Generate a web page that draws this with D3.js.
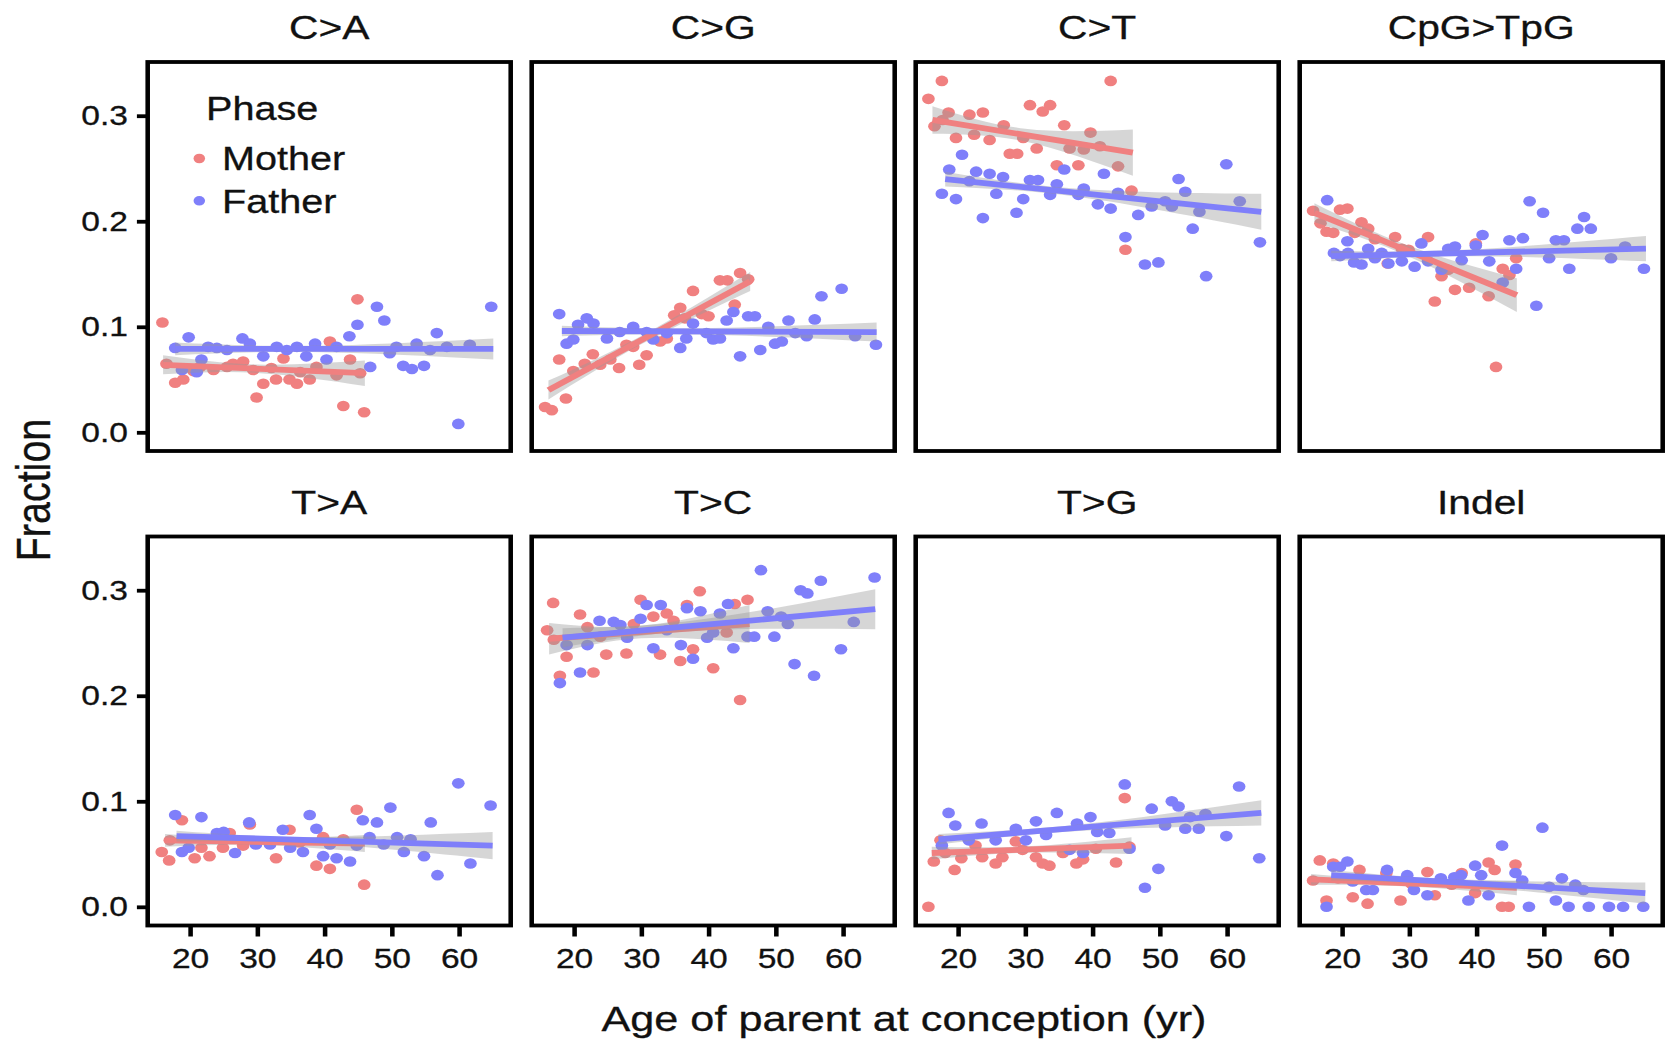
<!DOCTYPE html>
<html><head><meta charset="utf-8">
<script src="https://cdn.jsdelivr.net/npm/d3@7"></script>
<style>html,body{margin:0;padding:0;background:#fff;}svg{display:block;}</style>
</head><body>
<svg id="chart" width="1665" height="1041"></svg>
<script>
// ---------------- DATA ----------------
const panels = ["C>A", "C>G", "C>T", "CpG>TpG", "T>A", "T>C", "T>G", "Indel"];
const phases = ["Mother", "Father"];
const xTicks = [20, 30, 40, 50, 60];
const yTicks = [0.0, 0.1, 0.2, 0.3];
const xLabel = "Age of parent at conception (yr)";
const yLabel = "Fraction";
const legendTitle = "Phase";

// points: [age, fraction]
const caMother = [[15.9,0.104],[44.9,0.126],[40.8,0.086],[43.8,0.069],[17.8,0.047],[19.0,0.050],[29.9,0.033],[30.9,0.046],[32.8,0.050],[34.8,0.050],[35.9,0.046],[37.8,0.050],[42.8,0.025],[45.9,0.019],[16.5,0.065],[23.5,0.059],[26.4,0.065],[27.9,0.067],[29.4,0.059],[33.9,0.070],[38.8,0.062],[41.8,0.054],[45.3,0.056],[21.5,0.062],[25.5,0.062],[36.4,0.057],[32.1,0.061],[20.5,0.058]];
const caFather = [[19.8,0.090],[17.8,0.080],[27.8,0.089],[43.7,0.091],[44.9,0.102],[47.8,0.119],[48.9,0.106],[56.7,0.094],[64.8,0.119],[59.9,0.008],[46.8,0.062],[51.7,0.063],[53.0,0.060],[54.8,0.063],[61.6,0.083],[53.7,0.084],[49.7,0.075],[18.8,0.059],[21.0,0.057],[21.7,0.069],[22.7,0.081],[25.5,0.078],[28.9,0.084],[30.9,0.072],[32.9,0.081],[34.4,0.078],[35.9,0.081],[38.6,0.084],[40.3,0.069],[41.8,0.081],[37.3,0.072],[24.0,0.080],[50.7,0.081],[55.7,0.078],[58.2,0.081]];
const cgMother = [[15.7,0.024],[16.7,0.021],[18.8,0.032],[17.8,0.069],[19.9,0.058],[21.6,0.065],[22.8,0.074],[23.9,0.064],[26.7,0.061],[29.7,0.064],[30.8,0.073],[27.8,0.083],[33.8,0.089],[34.9,0.111],[35.8,0.118],[37.7,0.134],[40.0,0.110],[41.7,0.144],[42.8,0.144],[43.9,0.121],[44.7,0.151],[45.9,0.145],[32.8,0.086],[28.8,0.081],[25.4,0.069],[36.5,0.108],[39.0,0.112]];
const cgFather = [[17.8,0.112],[18.9,0.084],[19.9,0.088],[20.6,0.102],[21.9,0.108],[22.9,0.103],[24.9,0.089],[26.8,0.095],[28.8,0.100],[30.8,0.095],[31.8,0.088],[33.8,0.094],[35.8,0.080],[36.7,0.089],[37.7,0.103],[40.7,0.088],[41.7,0.089],[42.7,0.106],[43.7,0.114],[44.7,0.072],[45.9,0.110],[46.9,0.110],[47.7,0.078],[48.9,0.100],[49.9,0.084],[50.9,0.086],[51.9,0.106],[52.9,0.094],[54.6,0.091],[55.8,0.107],[56.8,0.129],[59.8,0.136],[61.8,0.091],[64.9,0.083],[39.7,0.094]];
const ctMother = [[15.6,0.316],[17.6,0.333],[42.7,0.333],[18.6,0.303],[21.7,0.301],[23.7,0.303],[16.5,0.290],[19.7,0.279],[22.4,0.282],[24.7,0.277],[26.8,0.291],[27.7,0.264],[28.8,0.264],[30.7,0.310],[32.6,0.304],[33.7,0.310],[31.7,0.269],[29.7,0.279],[35.8,0.291],[34.7,0.253],[36.6,0.269],[37.9,0.253],[38.7,0.268],[39.7,0.284],[41.1,0.271],[43.8,0.252],[44.9,0.173],[45.8,0.229],[17.7,0.296]];
const ctFather = [[20.6,0.263],[17.6,0.226],[18.7,0.249],[19.7,0.221],[22.7,0.247],[23.7,0.203],[24.7,0.245],[25.7,0.226],[26.7,0.242],[28.7,0.208],[29.7,0.221],[30.7,0.239],[31.9,0.239],[33.7,0.225],[34.7,0.235],[35.8,0.249],[37.9,0.225],[38.7,0.231],[40.8,0.216],[41.7,0.245],[42.7,0.212],[43.8,0.227],[44.9,0.185],[46.8,0.206],[47.8,0.159],[48.8,0.214],[49.8,0.161],[50.8,0.219],[51.8,0.214],[52.8,0.240],[53.8,0.228],[54.9,0.193],[55.9,0.209],[56.9,0.148],[59.9,0.254],[61.9,0.219],[64.9,0.180],[21.7,0.238]];
const cpgMother = [[15.7,0.210],[16.8,0.198],[17.7,0.190],[18.7,0.189],[19.7,0.211],[20.8,0.212],[21.9,0.189],[22.9,0.199],[23.9,0.193],[24.9,0.183],[26.8,0.160],[27.9,0.185],[28.9,0.174],[29.9,0.173],[32.8,0.185],[33.8,0.124],[34.8,0.148],[36.8,0.135],[38.9,0.137],[39.9,0.179],[41.8,0.129],[42.9,0.062],[43.9,0.155],[44.9,0.149],[45.9,0.165],[35.8,0.154]];
const cpgFather = [[17.8,0.220],[18.8,0.170],[19.7,0.167],[20.8,0.181],[21.8,0.161],[22.9,0.159],[23.9,0.174],[24.9,0.165],[25.9,0.170],[26.9,0.160],[28.9,0.162],[30.8,0.157],[31.8,0.179],[32.8,0.162],[34.8,0.154],[35.8,0.174],[36.8,0.176],[37.8,0.163],[39.9,0.177],[40.9,0.187],[41.9,0.162],[43.9,0.142],[44.9,0.182],[45.9,0.155],[46.9,0.184],[47.9,0.219],[48.9,0.120],[49.9,0.208],[50.8,0.165],[51.8,0.182],[53.0,0.182],[53.8,0.155],[55.0,0.193],[56.0,0.204],[57.0,0.193],[60.0,0.165],[62.1,0.176],[64.9,0.155],[20.9,0.170]];
const taMother = [[15.8,0.052],[16.9,0.044],[18.8,0.082],[20.7,0.046],[22.9,0.048],[21.7,0.056],[24.9,0.056],[25.9,0.070],[28.9,0.078],[32.8,0.046],[34.8,0.073],[38.8,0.039],[40.8,0.036],[44.8,0.092],[45.9,0.021],[42.8,0.064],[17.0,0.063],[27.9,0.058],[39.8,0.066],[36.3,0.061]];
const taFather = [[17.8,0.087],[21.7,0.085],[28.8,0.080],[18.8,0.052],[19.8,0.056],[26.7,0.051],[29.8,0.059],[33.8,0.073],[34.9,0.056],[36.8,0.052],[37.8,0.087],[38.8,0.074],[39.8,0.048],[41.8,0.046],[43.8,0.043],[45.7,0.082],[46.7,0.066],[47.8,0.080],[48.8,0.059],[49.8,0.094],[50.8,0.066],[51.8,0.052],[52.8,0.064],[54.8,0.048],[55.8,0.080],[56.8,0.030],[59.9,0.117],[61.7,0.041],[64.7,0.096],[24.0,0.070],[25.0,0.071],[31.9,0.059],[40.8,0.059],[44.8,0.058]];
const tcMother = [[16.0,0.262],[16.9,0.288],[17.9,0.219],[18.9,0.237],[20.9,0.277],[22.0,0.265],[22.9,0.222],[24.8,0.239],[27.8,0.240],[29.9,0.291],[31.8,0.275],[32.8,0.239],[33.8,0.278],[34.8,0.271],[35.8,0.233],[36.8,0.286],[37.7,0.244],[38.7,0.299],[40.7,0.226],[42.7,0.260],[43.9,0.287],[44.7,0.196],[45.8,0.291],[17.0,0.253],[23.9,0.256],[28.9,0.268]];
const tcFather = [[17.9,0.212],[20.9,0.222],[18.9,0.248],[22.0,0.248],[23.8,0.271],[25.9,0.270],[26.9,0.267],[27.9,0.255],[29.9,0.273],[30.8,0.286],[31.8,0.245],[32.9,0.286],[33.8,0.262],[35.9,0.248],[36.8,0.283],[37.7,0.235],[38.8,0.280],[39.8,0.255],[41.7,0.278],[42.9,0.287],[43.7,0.245],[45.8,0.256],[46.8,0.256],[47.8,0.319],[48.8,0.280],[49.8,0.256],[50.8,0.275],[51.8,0.268],[52.8,0.230],[53.7,0.300],[54.7,0.297],[55.7,0.219],[56.7,0.309],[59.7,0.244],[61.6,0.270],[64.7,0.312],[40.7,0.260]];
const tgMother = [[15.6,0.000],[16.4,0.043],[17.4,0.063],[19.5,0.035],[20.5,0.046],[22.6,0.058],[23.6,0.047],[25.6,0.041],[26.6,0.047],[28.6,0.062],[31.6,0.047],[32.6,0.041],[33.6,0.039],[35.6,0.051],[37.6,0.041],[38.6,0.045],[40.5,0.055],[43.5,0.042],[44.8,0.103],[45.5,0.057],[18.1,0.051],[29.6,0.054]];
const tgFather = [[18.6,0.089],[19.6,0.077],[23.5,0.079],[28.6,0.074],[31.6,0.081],[34.7,0.089],[37.7,0.079],[39.7,0.085],[40.7,0.071],[44.8,0.116],[45.5,0.055],[47.8,0.018],[48.8,0.093],[49.8,0.036],[50.8,0.077],[51.8,0.100],[52.8,0.095],[53.8,0.074],[55.8,0.074],[56.8,0.088],[59.9,0.067],[61.8,0.114],[64.8,0.046],[17.6,0.058],[21.6,0.063],[25.6,0.063],[30.1,0.063],[33.1,0.068],[36.6,0.054],[38.6,0.051],[42.5,0.070],[54.5,0.085]];
const indelMother = [[15.7,0.025],[16.7,0.044],[17.7,0.006],[18.7,0.041],[21.6,0.009],[22.6,0.035],[23.8,0.003],[26.6,0.032],[28.7,0.006],[32.7,0.033],[33.8,0.011],[37.8,0.032],[39.8,0.013],[41.8,0.042],[42.7,0.035],[43.8,0.000],[44.8,0.000],[45.8,0.040],[36.3,0.021],[19.4,0.027],[30.3,0.022]];
const indelFather = [[17.7,0.000],[18.7,0.038],[19.7,0.038],[20.8,0.043],[21.6,0.024],[23.6,0.016],[24.6,0.016],[26.7,0.035],[29.7,0.030],[30.7,0.016],[32.7,0.011],[34.7,0.027],[36.7,0.028],[37.7,0.030],[38.8,0.006],[39.8,0.039],[40.7,0.030],[41.8,0.011],[43.8,0.058],[45.8,0.032],[46.8,0.025],[47.8,0.000],[49.8,0.075],[50.8,0.019],[51.8,0.006],[52.7,0.027],[53.7,0.000],[54.7,0.021],[56.7,0.000],[59.7,0.000],[61.8,0.000],[64.8,0.000],[55.9,0.016]];

const motherPoints = [caMother, cgMother, ctMother, cpgMother, taMother, tcMother, tgMother, indelMother];
const fatherPoints = [caFather, cgFather, ctFather, cpgFather, taFather, tcFather, tgFather, indelFather];

// fitted lines: [ageStart, ageEnd, fracStart, fracEnd]
const motherFits = [[16.0,46.0,0.064,0.056],[16.2,46.2,0.040,0.143],[16.2,46.0,0.296,0.265],[15.9,46.0,0.208,0.130],[16.3,46.0,0.063,0.060],[16.3,46.1,0.254,0.268],[16.1,45.8,0.051,0.058],[15.4,46.0,0.026,0.018]];
const fatherFits = [[17.8,65.1,0.079,0.079],[18.2,65.0,0.096,0.095],[18.1,65.1,0.240,0.209],[18.4,65.2,0.167,0.174],[18.0,65.0,0.067,0.058],[18.3,64.8,0.255,0.282],[17.1,65.1,0.064,0.089],[18.4,65.1,0.030,0.013]];
// confidence band half-widths: [start, narrowest, end]
const motherBands = [[0.009,0.004,0.012],[0.009,0.004,0.009],[0.013,0.006,0.022],[0.009,0.005,0.016],[0.006,0.003,0.008],[0.015,0.006,0.018],[0.006,0.003,0.008],[0.005,0.003,0.007]];
const fatherBands = [[0.006,0.003,0.010],[0.005,0.003,0.009],[0.007,0.004,0.017],[0.005,0.003,0.012],[0.005,0.003,0.013],[0.009,0.005,0.019],[0.005,0.003,0.012],[0.005,0.003,0.010]];
const bandNarrowAge = [30, 38]; // mother, father

// ---------------- LAYOUT / STYLE ----------------
const SX = 1.2; // horizontal stretch of the reference
const W = 1665, H = 1041;
const FONT = "'Liberation Sans', Arial, Helvetica, sans-serif";
const TXT = "#111111";
const colors = {Mother: "#F08080", Father: "#7F7FFA"};
const panelLefts = [147.7, 531.7, 915.7, 1299.7];
const rowTops = [62, 536.5];
const PW = 363, PH = 389;
const xDomain = [13.71, 67.69];
const yDomain = [-0.0177, 0.3509];

const svg = d3.select("#chart")
  .attr("viewBox", `0 0 ${W / SX} ${H}`)
  .attr("preserveAspectRatio", "none");
svg.append("rect").attr("width", W / SX).attr("height", H).attr("fill", "#fff");

const x = d3.scaleLinear().domain(xDomain).range([0, PW / SX]);
const y = d3.scaleLinear().domain(yDomain).range([PH, 0]);

const line = d3.line().x(d => x(d[0])).y(d => y(d[1]));
const area = d3.area().x(d => x(d[0])).y0(d => y(d[1])).y1(d => y(d[2])).curve(d3.curveNatural);

function bandData(fit, band, narrowAge) {
  const [a0, a1, f0, f1] = fit;
  const at = a => f0 + (f1 - f0) * (a - a0) / (a1 - a0);
  const ac = Math.min(Math.max(narrowAge, a0 + 1), a1 - 1);
  return [[a0, f0 - band[0], f0 + band[0]], [ac, at(ac) - band[1], at(ac) + band[1]], [a1, f1 - band[2], f1 + band[2]]];
}

panels.forEach((name, i) => {
  const col = i % 4, row = Math.floor(i / 4);
  const g = svg.append("g").attr("transform", `translate(${panelLefts[col] / SX},${rowTops[row]})`);

  // strip title
  g.append("text").attr("x", PW / SX / 2).attr("y", -23)
    .attr("text-anchor", "middle").attr("font-family", FONT).attr("font-size", 34).attr("fill", TXT)
    .attr("stroke", TXT).attr("stroke-width", 0.3)
    .text(name);

  // points
  [["Mother", motherPoints[i]], ["Father", fatherPoints[i]]].forEach(([ph, pts]) => {
    g.append("g").selectAll("circle").data(pts).join("circle")
      .attr("cx", d => x(d[0])).attr("cy", d => y(d[1])).attr("r", 5.3)
      .attr("fill", colors[ph]);
  });

  // smooths
  [["Mother", motherFits[i], motherBands[i], bandNarrowAge[0]], ["Father", fatherFits[i], fatherBands[i], bandNarrowAge[1]]]
    .forEach(([ph, fit, band, na]) => {
      g.append("path").attr("d", area(bandData(fit, band, na))).attr("fill", "#999999").attr("fill-opacity", 0.4);
      g.append("path").attr("d", line([[fit[0], fit[2]], [fit[1], fit[3]]]))
        .attr("stroke", colors[ph]).attr("stroke-width", 5.8).attr("fill", "none");
    });

  // panel border
  g.append("rect").attr("x", 0).attr("y", 0).attr("width", PW / SX).attr("height", PH)
    .attr("fill", "none").attr("stroke", "#000").attr("stroke-width", 3.8);

  if (col === 0) {
    const ya = g.append("g").call(d3.axisLeft(y).tickValues(yTicks).tickFormat(d3.format(".1f")).tickSize(9).tickPadding(7.5));
    ya.select(".domain").remove();
    ya.selectAll("line").attr("stroke", "#000").attr("stroke-width", 3.8);
    ya.selectAll("text").attr("font-family", FONT).attr("font-size", 28).attr("fill", TXT)
      .attr("stroke", TXT).attr("stroke-width", 0.3);
  }
  if (row === 1) {
    const xa = g.append("g").attr("transform", `translate(0,${PH})`)
      .call(d3.axisBottom(x).tickValues(xTicks).tickSize(11).tickPadding(12));
    xa.select(".domain").remove();
    xa.selectAll("line").attr("stroke", "#000").attr("stroke-width", 3.8);
    xa.selectAll("text").attr("font-family", FONT).attr("font-size", 28).attr("fill", TXT)
      .attr("stroke", TXT).attr("stroke-width", 0.3);
  }

  if (i === 0) {
    const lg = svg.append("g");
    lg.append("text").attr("x", 206 / SX).attr("y", 120).attr("font-family", FONT).attr("font-size", 33).attr("fill", TXT)
      .attr("stroke", TXT).attr("stroke-width", 0.3).text(legendTitle);
    phases.forEach((ph, k) => {
      const cy = 158.5 + k * 42.3;
      lg.append("circle").attr("cx", 199.3 / SX).attr("cy", cy).attr("r", 4.8).attr("fill", colors[ph]);
      lg.append("text").attr("x", 222 / SX).attr("y", cy + 11.8).attr("font-family", FONT).attr("font-size", 33).attr("fill", TXT)
        .attr("stroke", TXT).attr("stroke-width", 0.3).text(ph);
    });
  }
});

// axis titles
svg.append("text").attr("x", 904 / SX).attr("y", 1031).attr("text-anchor", "middle")
  .attr("font-family", FONT).attr("font-size", 36).attr("fill", TXT)
  .attr("stroke", TXT).attr("stroke-width", 0.3).text(xLabel);
svg.append("text").attr("transform", `translate(${50 / SX},490) rotate(-90)`).attr("text-anchor", "middle")
  .attr("font-family", FONT).attr("font-size", 39.5).attr("fill", TXT)
  .attr("stroke", TXT).attr("stroke-width", 0.3).text(yLabel);
</script>
</body></html>
